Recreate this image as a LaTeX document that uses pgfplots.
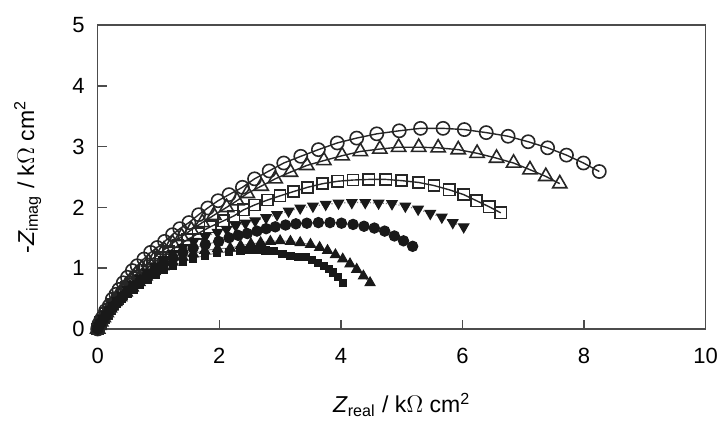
\documentclass[border=0pt]{standalone}
\usepackage{fontspec}
\setmainfont{Liberation Sans}
\usepackage{pgfplots}
\pgfplotsset{compat=1.18}

\begin{document}
\begin{tikzpicture}
\begin{axis}[
  scale only axis, width=304pt, height=152pt,
  xmin=0, xmax=10, ymin=0, ymax=5,
  xtick={0,2,4,6,8,10}, ytick={0,1,2,3,4,5},
  xtick pos=bottom, ytick pos=left,
  tick align=inside, major tick length=4.5pt,
  axis line style={line width=0.7pt, black!70},
  every tick/.style={line width=0.7pt, black!70},
  /pgf/number format/assume math mode=true,
  tick label style={font=\fontsize{11}{13}\selectfont},
  xticklabel style={yshift=-6pt},
  yticklabel style={xshift=-3pt},
  label style={font=\fontsize{11.5}{13}\selectfont},
  xlabel={\textit{Z}\textsubscript{real} / k$\Omega$ cm\textsuperscript{2}},
  ylabel={-\textit{Z}\textsubscript{imag} / k$\Omega$ cm\textsuperscript{2}},
  xlabel style={at={(axis description cs:0.5,0)}, anchor=base, yshift=-42pt},
  ylabel style={at={(axis description cs:0,0.5)}, anchor=center, yshift=35pt},
  clip=false,
]
% open circles
\addplot[black!85, line width=0.7pt, mark=o, mark size=3.3pt, mark options={fill=white, line width=0.8pt}] coordinates {
(0.00,0.00) (0.01,0.03) (0.02,0.08) (0.05,0.14) (0.08,0.19) (0.13,0.30) (0.19,0.38) (0.24,0.49) (0.30,0.57) (0.35,0.65) (0.42,0.76) (0.49,0.85) (0.57,0.96) (0.65,1.04) (0.76,1.15) (0.87,1.26) (0.98,1.34) (1.10,1.44) (1.23,1.55) (1.35,1.65) (1.50,1.75) (1.66,1.88) (1.81,1.99) (1.98,2.11) (2.16,2.21) (2.38,2.33) (2.58,2.47) (2.82,2.60) (3.06,2.73) (3.34,2.84) (3.63,2.95) (3.94,3.06) (4.26,3.14) (4.59,3.21) (4.96,3.26) (5.31,3.30) (5.68,3.30) (6.03,3.28) (6.39,3.23) (6.75,3.17) (7.08,3.08) (7.40,2.98) (7.71,2.86) (7.99,2.73) (8.25,2.59)};
% open triangles
\addplot[black!85, line width=0.7pt, mark=triangle, mark size=4.1pt, mark options={fill=white, line width=0.8pt}] coordinates {
(0.00,0.00) (0.02,0.06) (0.05,0.12) (0.09,0.19) (0.14,0.27) (0.19,0.35) (0.25,0.44) (0.31,0.52) (0.38,0.61) (0.46,0.71) (0.54,0.80) (0.63,0.90) (0.73,1.00) (0.84,1.10) (0.96,1.20) (1.09,1.30) (1.23,1.41) (1.38,1.52) (1.54,1.63) (1.72,1.75) (1.91,1.87) (2.12,2.00) (2.29,2.11) (2.46,2.23) (2.69,2.35) (2.92,2.47) (3.17,2.58) (3.44,2.69) (3.72,2.77) (4.02,2.85) (4.32,2.92) (4.64,2.96) (4.95,2.99) (5.28,2.99) (5.60,2.98) (5.93,2.95) (6.24,2.89) (6.56,2.81) (6.84,2.73) (7.11,2.62) (7.37,2.51) (7.60,2.39)};
% open squares
\addplot[black!85, line width=0.7pt, mark=square, mark size=2.8pt, mark options={fill=white, line width=0.8pt}] coordinates {
(0.00,0.00) (0.02,0.05) (0.05,0.11) (0.09,0.18) (0.14,0.25) (0.19,0.33) (0.25,0.41) (0.32,0.50) (0.40,0.59) (0.48,0.68) (0.57,0.77) (0.67,0.87) (0.78,0.97) (0.90,1.07) (1.03,1.17) (1.17,1.27) (1.32,1.37) (1.48,1.47) (1.65,1.57) (1.85,1.68) (2.07,1.78) (2.24,1.86) (2.40,1.96) (2.58,2.04) (2.79,2.12) (3.00,2.19) (3.22,2.26) (3.45,2.33) (3.70,2.39) (3.95,2.43) (4.20,2.45) (4.46,2.46) (4.74,2.46) (5.00,2.44) (5.28,2.41) (5.53,2.36) (5.78,2.29) (6.02,2.21) (6.23,2.11) (6.44,2.01) (6.63,1.91)};
% filled down triangles
\addplot[black!50, densely dotted, line width=0.6pt, mark=triangle*, mark size=2.9pt, mark options={solid, rotate=180, fill=black!90, draw=black!90}] coordinates {
(0.00,0.00) (0.02,0.05) (0.05,0.10) (0.09,0.17) (0.14,0.24) (0.19,0.31) (0.25,0.39) (0.32,0.47) (0.40,0.56) (0.49,0.65) (0.58,0.74) (0.69,0.84) (0.81,0.94) (0.94,1.04) (1.08,1.14) (1.23,1.24) (1.40,1.34) (1.58,1.44) (1.77,1.52) (1.97,1.59) (2.12,1.64) (2.27,1.70) (2.43,1.74) (2.59,1.78) (2.77,1.83) (2.95,1.88) (3.14,1.94) (3.33,1.99) (3.54,2.02) (3.75,2.05) (3.96,2.07) (4.18,2.08) (4.40,2.08) (4.62,2.07) (4.84,2.06) (5.06,2.02) (5.27,1.97) (5.47,1.90) (5.66,1.84) (5.84,1.75) (6.02,1.68)};
% filled circles
\addplot[black!50, line width=0.5pt, mark=*, mark size=2.6pt, mark options={fill=black!90, draw=black!90}] coordinates {
(0.00,0.00) (0.02,0.05) (0.05,0.10) (0.09,0.16) (0.14,0.23) (0.19,0.30) (0.25,0.37) (0.32,0.45) (0.40,0.53) (0.49,0.62) (0.59,0.71) (0.70,0.80) (0.82,0.90) (0.95,0.99) (1.09,1.08) (1.24,1.17) (1.40,1.26) (1.57,1.33) (1.77,1.39) (1.99,1.44) (2.16,1.50) (2.31,1.54) (2.46,1.57) (2.62,1.61) (2.77,1.65) (2.92,1.68) (3.09,1.71) (3.26,1.73) (3.44,1.74) (3.63,1.75) (3.82,1.75) (4.01,1.74) (4.20,1.72) (4.38,1.69) (4.55,1.66) (4.72,1.61) (4.88,1.53) (5.03,1.45) (5.18,1.36)};
% filled up triangles
\addplot[black!50, line width=0.5pt, mark=triangle*, mark size=2.9pt, mark options={fill=black!90, draw=black!90}] coordinates {
(0.00,0.00) (0.02,0.05) (0.05,0.10) (0.09,0.16) (0.14,0.22) (0.19,0.29) (0.25,0.36) (0.32,0.43) (0.40,0.51) (0.49,0.59) (0.59,0.67) (0.70,0.76) (0.82,0.85) (0.95,0.94) (1.09,1.02) (1.24,1.10) (1.40,1.18) (1.57,1.24) (1.76,1.29) (1.97,1.32) (2.18,1.33) (2.35,1.37) (2.52,1.40) (2.68,1.42) (2.84,1.44) (3.00,1.45) (3.17,1.44) (3.33,1.42) (3.50,1.39) (3.65,1.34) (3.78,1.29) (3.91,1.22) (4.03,1.15) (4.15,1.07) (4.26,0.98) (4.37,0.87) (4.48,0.76)};
% filled squares
\addplot[black!50, line width=0.5pt, mark=square*, mark size=1.8pt, mark options={fill=black!90, draw=black!90}] coordinates {
(0.00,0.00) (0.02,0.05) (0.05,0.10) (0.09,0.16) (0.14,0.22) (0.19,0.28) (0.25,0.35) (0.32,0.42) (0.40,0.49) (0.49,0.57) (0.59,0.65) (0.70,0.73) (0.82,0.81) (0.95,0.89) (1.09,0.97) (1.24,1.04) (1.40,1.10) (1.57,1.16) (1.76,1.21) (1.96,1.25) (2.16,1.27) (2.35,1.29) (2.49,1.30) (2.62,1.30) (2.76,1.29) (2.90,1.28) (3.04,1.24) (3.17,1.20) (3.30,1.19) (3.42,1.18) (3.53,1.13) (3.62,1.09) (3.72,1.04) (3.80,0.99) (3.87,0.93) (3.95,0.86) (4.03,0.76)};
\end{axis}
\pgfresetboundingbox
\path[use as bounding box] (current axis.south west) ++(-48.85pt,-46pt) rectangle ++(359.5pt,210.5pt);
\end{tikzpicture}
\end{document}
